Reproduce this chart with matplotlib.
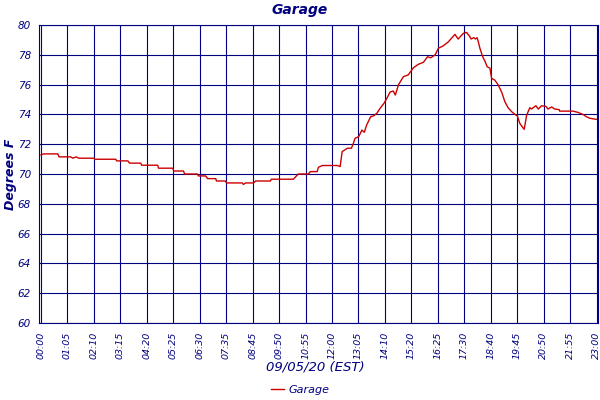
import numpy as np
import matplotlib
matplotlib.use("Agg")
import matplotlib.pyplot as plt

NAVY = '#000080'
RED = '#cc0000'

# minutes after midnight, temperature (F)
minutes = [0, 7, 42, 45, 74, 79, 88, 94, 131, 134, 186, 188, 216, 220, 248, 250,
           290, 292, 327, 330, 354, 357, 389, 391, 409, 414, 434, 436, 458, 461,
           500, 503, 508, 528, 533, 570, 572, 627, 632, 639, 664, 669, 686, 689,
           699, 736, 743, 748, 761, 771, 776, 780, 789, 797, 803, 809, 819, 826,
           834, 842, 852, 859, 867, 875, 880, 888, 900, 912, 925, 937, 950, 960,
           968, 979, 987, 999, 1012, 1028, 1036, 1049, 1057, 1065, 1068, 1075,
           1079, 1083, 1086, 1090, 1097, 1103, 1108, 1115, 1119, 1127, 1135, 1144,
           1152, 1160, 1169, 1177, 1183, 1189, 1197, 1200, 1206, 1214, 1218, 1229,
           1235, 1243, 1254, 1259, 1268, 1276, 1287, 1288, 1321, 1333, 1346, 1354,
           1363, 1379]
temps = [71.28, 71.35, 71.35, 71.15, 71.15, 71.06, 71.15, 71.06, 71.06, 70.99, 70.99,
         70.88, 70.88, 70.73, 70.73, 70.59, 70.59, 70.39, 70.39, 70.2, 70.2, 70.0,
         70.0, 69.87, 69.87, 69.69, 69.69, 69.53, 69.53, 69.4, 69.4, 69.3, 69.4,
         69.4, 69.53, 69.53, 69.65, 69.65, 69.8, 70.0, 70.0, 70.16, 70.16, 70.45,
         70.57, 70.57, 70.5, 71.5, 71.73, 71.73, 72.07, 72.4, 72.5, 72.95, 72.8,
         73.3, 73.85, 73.9, 74.07, 74.4, 74.75, 75.08, 75.5, 75.57, 75.3, 76.0,
         76.53, 76.65, 77.13, 77.36, 77.5, 77.87, 77.8, 78.0, 78.44, 78.6, 78.88,
         79.37, 79.06, 79.44, 79.5, 79.22, 79.06, 79.15, 79.06, 79.15, 78.88,
         78.44, 77.87, 77.54, 77.2, 77.1, 76.42, 76.3, 76.0, 75.5, 74.85, 74.45,
         74.18, 74.0, 73.9, 73.4, 73.1, 73.0, 73.94, 74.45, 74.36, 74.58, 74.36,
         74.58, 74.54, 74.36, 74.5, 74.36, 74.32, 74.22, 74.22, 74.14, 74.0, 73.85,
         73.74, 73.67]

tick_labels = ['00:00', '01:05', '02:10', '03:15', '04:20', '05:25', '06:30', '07:35',
               '08:45', '09:50', '10:55', '12:00', '13:05', '14:10', '15:20', '16:25',
               '17:30', '18:40', '19:45', '20:50', '21:55', '23:00']

fig = plt.figure(figsize=(6, 4), dpi=100)
ax = fig.add_axes([39.3 / 600, 1 - 323 / 400, (598.3 - 39.3) / 600, 298 / 400])

ax.plot(minutes, temps, color=RED, linewidth=1.0, label='Garage')

xt = np.linspace(0, 1380, len(tick_labels))
ax.set_xticks(xt)
ax.set_xticklabels(tick_labels, rotation=90, fontsize=6.8, style='italic', color=NAVY)
yt = np.arange(60, 81, 2)
ax.set_yticks(yt)
ax.set_yticklabels([str(v) for v in yt], fontsize=7.5, style='italic', color=NAVY)
ax.tick_params(length=0, pad=6)
ax.set_xlim(-4, 1384)
ax.set_ylim(60, 80)

ax.grid(True, color=NAVY, linewidth=0.8)
ax.set_axisbelow(True)
for s in ax.spines.values():
    s.set_color(NAVY)
    s.set_linewidth(0.8)

fig.text(0.5, 1 - 10 / 400, 'Garage', ha='center', va='center', fontsize=10,
         style='italic', fontweight='bold', color=NAVY)
fig.text(0.017, (1 - 174 / 400), 'Degrees F', rotation=90, ha='center', va='center',
         fontsize=9, style='italic', fontweight='bold', color=NAVY)
fig.text(0.525, 1 - 367 / 400, '09/05/20 (EST)', ha='center', va='center',
         fontsize=9.5, style='italic', color=NAVY)
leg = fig.legend(loc='center', bbox_to_anchor=(0.5, 1 - 390 / 400), frameon=False,
                 fontsize=8, handlelength=1.2, handletextpad=0.4)
for t in leg.get_texts():
    t.set_color(NAVY)
    t.set_style('italic')

fig.savefig('out.png', dpi=100)
